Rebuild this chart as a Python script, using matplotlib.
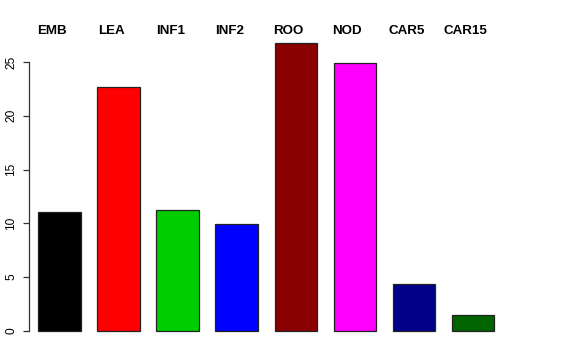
import matplotlib
matplotlib.use("Agg")
import matplotlib.pyplot as plt
import matplotlib.transforms as mtransforms

categories = ["EMB", "LEA", "INF1", "INF2", "ROO", "NOD", "CAR5", "CAR15"]
values = [11.06, 22.68, 11.25, 9.94, 26.77, 24.9, 4.37, 1.49]
colors = ["#000000", "#FF0000", "#00CD00", "#0000FF", "#8B0000", "#FF00FF", "#00008B", "#006400"]
yticks = [0, 5, 10, 15, 20, 25]

plt.rcParams['font.family'] = ['Liberation Sans', 'DejaVu Sans']

W, H = 576, 360
fig = plt.figure(figsize=(W / 100, H / 100), dpi=100)
left_px, right_px = 29, 512.5
top_px, bottom_px = 31.4, 342.5
ax = fig.add_axes([left_px / W, 1 - bottom_px / H, (right_px - left_px) / W, (bottom_px - top_px) / H])

x = list(range(len(categories)))
ax.bar(x, values, width=0.72, color=colors, edgecolor="#222222", linewidth=0.9)

unit = 59.07
c0 = 59.5
ax.set_xlim((left_px - c0) / unit, (right_px - c0) / unit)
ax.set_ylim(-1.07, 27.84)

for s in ["top", "right", "bottom"]:
    ax.spines[s].set_visible(False)
ax.spines["left"].set_bounds(0, 25)
ax.spines["left"].set_color("#333333")
ax.spines["left"].set_linewidth(0.9)
ax.set_xticks([])
ax.set_yticks(yticks)
ax.set_yticklabels([str(t) for t in yticks], rotation=90, va="center", fontsize=8.6)
ax.tick_params(axis="y", length=4.3, width=0.9, pad=4.3, color="#333333")

trans = mtransforms.blended_transform_factory(ax.transData, fig.transFigure)
label_shift = -7.5 / unit
for xi, lab in zip(x, categories):
    ax.text(xi + label_shift, 1 - 34 / H, lab, transform=trans,
            ha="center", va="baseline", fontsize=9.6, fontweight="bold")

fig.savefig("out.png", dpi=100)
